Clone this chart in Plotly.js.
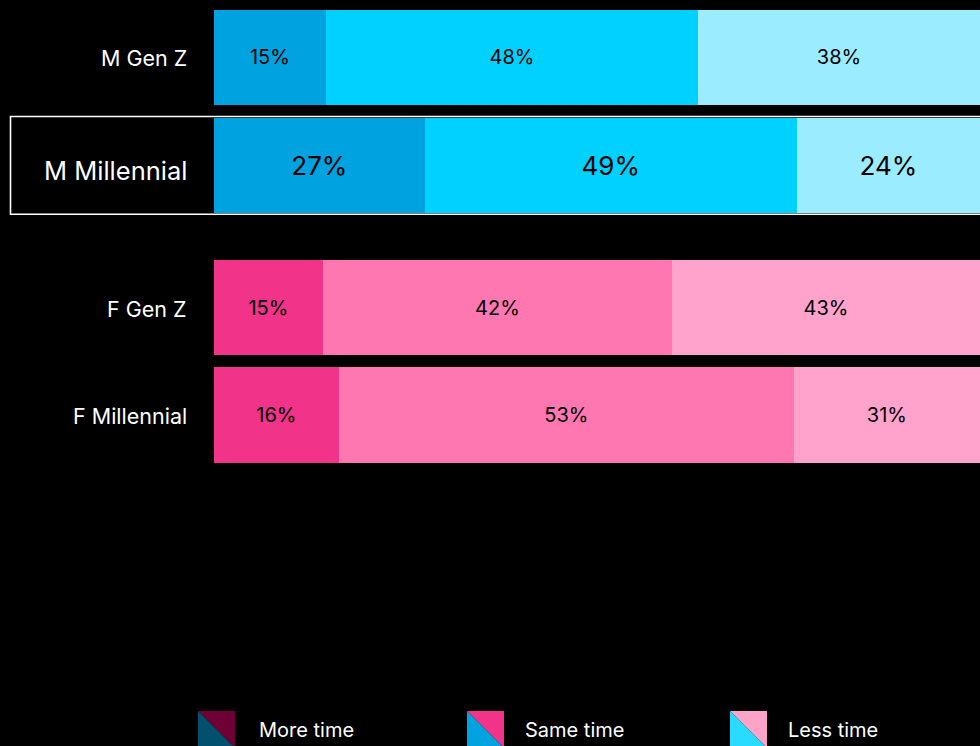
<!DOCTYPE html>
<html><head><meta charset="utf-8">
<script src="https://cdn.plot.ly/plotly-3.0.1.min.js"></script>
<style>html,body{margin:0;padding:0;background:#000;}#chart{width:980px;height:746px;}</style>
</head><body><div id="chart"></div>
<script>
// ---- data ----
const rows = ["M Gen Z", "M Millennial", "F Gen Z", "F Millennial"];
const segA = [14.6, 27.5, 14.2, 16.3];   // first segment (bar width, % of row)
const segB = [48.6, 48.6, 45.6, 59.4];   // second segment
const segC = [36.8, 23.9, 40.2, 24.3];   // third segment
const labelA = ["15%", "27%", "15%", "16%"];
const labelB = ["48%", "49%", "42%", "53%"];
const labelC = ["38%", "24%", "43%", "31%"];
const legendNames = ["More time", "Same time", "Less time"];

// ---- styling / layout ----
const rowPos = [0, 1, 2.315, 3.31];
const colA = ["#00a3e0", "#00a3e0", "#f2338a", "#f2338a"];
const colB = ["#00d1ff", "#00d1ff", "#ff77b1", "#ff77b1"];
const colC = ["#9cecff", "#9cecff", "#ffa3cc", "#ffa3cc"];
const txtSize = [20, 26, 20, 20];
const rowFont = [21.5, 25.5, 21.5, 21.5];
const rowShift = [-1, -5, -1, -1];
const FONT = "Inter, Roboto, 'Open Sans', sans-serif";

function seg(vals, labels, cols, name) {
  return {
    type: "bar", orientation: "h", x: vals, y: rowPos, name: name,
    marker: {color: cols, line: {width: 0}},
    text: labels, textposition: "inside", insidetextanchor: "middle",
    textfont: {color: "#000", size: txtSize, family: FONT},
    constraintext: "none", width: 0.88, showlegend: false, hoverinfo: "skip"
  };
}
const data = [seg(segA, labelA, colA, "A"), seg(segB, labelB, colB, "B"), seg(segC, labelC, colC, "C")];

const L = 214, W = 766, H = 480;
const px = x => (x - L) / W;
const py = y => (H - y) / H;
function tri(pts) {
  return "M" + pts.map(p => px(p[0]) + "," + py(p[1])).join(" L") + " Z";
}
const icons = [
  {x: 198, tr: "#6e0036", bl: "#00506e"},
  {x: 467, tr: "#f2338a", bl: "#00a3e0"},
  {x: 730, tr: "#ffa3c8", bl: "#29dcff"}
];
const textX = [257, 523, 786];
const shapes = [];
icons.forEach(ic => {
  const x0 = ic.x, x1 = ic.x + 37, y0 = 711, y1 = 748;
  shapes.push({type: "path", xref: "paper", yref: "paper", path: tri([[x0, y0], [x1, y0], [x1, y1]]), fillcolor: ic.tr, line: {width: 0}});
  shapes.push({type: "path", xref: "paper", yref: "paper", path: tri([[x0, y0], [x0, y1], [x1, y1]]), fillcolor: ic.bl, line: {width: 0}});
});
// highlight box
shapes.push({type: "rect", xref: "paper", yref: "y", x0: px(10.5), x1: px(990), y0: 0.547, y1: 1.452,
  line: {color: "#fff", width: 1.6}, fillcolor: "rgba(0,0,0,0)", layer: "above"});

const annotations = legendNames.map((n, i) => ({
  xref: "paper", yref: "paper", x: px(textX[i]), y: py(730), xanchor: "left", yanchor: "middle",
  text: n, showarrow: false, font: {color: "#fff", size: 20, family: FONT}
}));
rows.forEach((r, i) => annotations.push({
  xref: "paper", yref: "y", x: px(189), y: rowPos[i], xanchor: "right", yanchor: "middle",
  yshift: rowShift[i], text: r, showarrow: false, font: {color: "#fff", size: rowFont[i], family: FONT}
}));

const layout = {
  width: 980, height: 746,
  margin: {l: L, r: 0, t: 0, b: 746 - H, pad: 0},
  paper_bgcolor: "#000", plot_bgcolor: "#000",
  barmode: "stack", bargap: 0,
  xaxis: {range: [0, 100], visible: false, fixedrange: true},
  yaxis: {range: [3.912, -0.532], tickmode: "array", tickvals: rowPos, showticklabels: false,
    showgrid: false, zeroline: false, showline: false, ticks: ""},
  shapes: shapes, annotations: annotations,
  font: {family: FONT, color: "#fff"}
};
Plotly.newPlot("chart", data, layout, {displayModeBar: false, staticPlot: true});
</script></body></html>
